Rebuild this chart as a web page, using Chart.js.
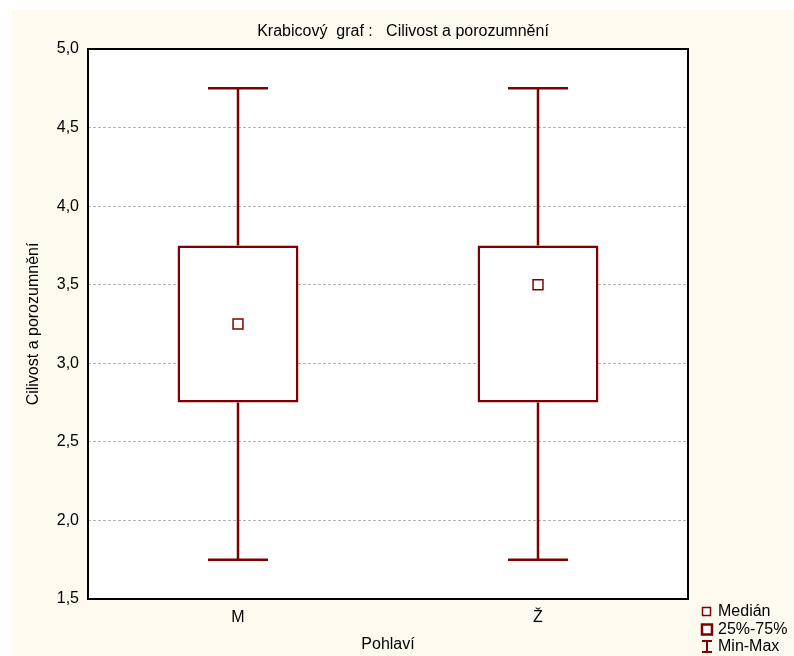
<!DOCTYPE html>
<html>
<head>
<meta charset="utf-8">
<script src="https://cdn.jsdelivr.net/npm/chart.js@4"></script>
<style>
  body { margin: 0; background: #ffffff; }
  #wrap { position: absolute; left: 12px; top: 10px; width: 782px; height: 646px; background: #fffaf0; }
</style>
</head>
<body>
<div id="wrap"><canvas id="box"></canvas></div>
<script>
const categories = ["M", "Ž"];
const minVals = [1.75, 1.75];
const q1Vals = [2.75, 2.75];
const medianVals = [3.25, 3.5];
const q3Vals = [3.75, 3.75];
const maxVals = [4.75, 4.75];

const red = "#800000";
const font = "Arial, 'Liberation Sans', sans-serif";

// white plot area, whiskers, frame, title and legend
const boxExtras = {
    id: "boxExtras",
    beforeDraw(chart) {
        const a = chart.chartArea;
        chart.ctx.save();
        chart.ctx.fillStyle = "#fff";
        chart.ctx.fillRect(a.left, a.top, a.right - a.left, a.bottom - a.top);
        chart.ctx.restore();
    },
    beforeDatasetsDraw(chart) {
        const ctx = chart.ctx;
        const x = chart.scales.x;
        const y = chart.scales.y;
        const step = x.getPixelForTick(1) - x.getPixelForTick(0);
        const cap = step * 0.2 / 2;
        ctx.save();
        ctx.strokeStyle = red;
        ctx.lineWidth = 2.5;
        categories.forEach((c, i) => {
            const cx = x.getPixelForValue(i);
            ctx.beginPath();
            ctx.moveTo(cx, y.getPixelForValue(q3Vals[i]));
            ctx.lineTo(cx, y.getPixelForValue(maxVals[i]));
            ctx.moveTo(cx, y.getPixelForValue(q1Vals[i]));
            ctx.lineTo(cx, y.getPixelForValue(minVals[i]));
            ctx.moveTo(cx - cap, y.getPixelForValue(maxVals[i]));
            ctx.lineTo(cx + cap, y.getPixelForValue(maxVals[i]));
            ctx.moveTo(cx - cap, y.getPixelForValue(minVals[i]));
            ctx.lineTo(cx + cap, y.getPixelForValue(minVals[i]));
            ctx.stroke();
        });
        ctx.restore();
    },
    afterDraw(chart) {
        const ctx = chart.ctx;
        const a = chart.chartArea;
        ctx.save();
        ctx.strokeStyle = "#000";
        ctx.lineWidth = 2;
        ctx.strokeRect(a.left, a.top, a.right - a.left, a.bottom - a.top);

        ctx.fillStyle = "#000";
        ctx.font = "16px " + font;
        ctx.textAlign = "center";
        ctx.textBaseline = "middle";
        ctx.fillText("Krabicový  graf :   Cilivost a porozumnění", chart.width / 2, 22);

        // legend
        ctx.textAlign = "left";
        ctx.font = "16px " + font;
        ctx.fillText("Medián", 706, 602);
        ctx.fillText("25%-75%", 706, 620);
        ctx.fillText("Min-Max", 706, 637);
        ctx.strokeStyle = red;
        ctx.lineWidth = 1.5;
        ctx.fillStyle = "#fff";
        ctx.fillRect(690.5, 597.5, 8, 8);
        ctx.strokeRect(690.5, 597.5, 8, 8);
        ctx.lineWidth = 2.5;
        ctx.fillRect(690, 614.5, 10, 10);
        ctx.strokeRect(690, 614.5, 10, 10);
        ctx.lineWidth = 2;
        ctx.beginPath();
        ctx.moveTo(690, 631); ctx.lineTo(700, 631);
        ctx.moveTo(695, 631); ctx.lineTo(695, 642);
        ctx.moveTo(690, 642); ctx.lineTo(700, 642);
        ctx.stroke();
        ctx.restore();
    }
};

const data = {
    labels: categories,
    datasets: [
        {
            type: "line",
            label: "Medián",
            data: medianVals,
            showLine: false,
            pointStyle: "rect",
            pointRadius: 7,
            pointHoverRadius: 7,
            pointBackgroundColor: "#fff",
            pointBorderColor: red,
            pointBorderWidth: 1.5,
            order: 0,
        },
        {
            type: "bar",
            label: "25%-75%",
            data: categories.map((c, i) => [q1Vals[i], q3Vals[i]]),
            backgroundColor: "#fff",
            borderColor: red,
            borderWidth: 2.5,
            borderSkipped: false,
            barPercentage: 0.403,
            categoryPercentage: 1,
            order: 1,
        },
    ],
};

const config = {
    type: "bar",
    data,
    options: {
        responsive: true,
        maintainAspectRatio: false,
        animation: false,
        layout: { padding: { top: 39, right: 106, left: 0, bottom: 0 } },
        plugins: {
            legend: { display: false },
            tooltip: { enabled: false },
        },
        scales: {
            x: {
                offset: true,
                grid: { display: false, drawTicks: false },
                border: { display: false },
                ticks: { color: "#000", font: { family: font, size: 16 }, padding: 9 },
                title: {
                    display: true,
                    text: "Pohlaví",
                    color: "#000",
                    font: { family: font, size: 16 },
                    padding: { top: 0, bottom: 2 },
                },
                afterFit(scale) { scale.height = 57; },
            },
            y: {
                min: 1.5,
                max: 5,
                grid: {
                    color: "#b4b4b4",
                    lineWidth: 1,
                    drawTicks: false,
                },
                border: { display: false, dash: [3, 2] },
                ticks: {
                    stepSize: 0.5,
                    color: "#000",
                    font: { family: font, size: 16 },
                    padding: 9,
                    callback: (v) => v.toFixed(1).replace(".", ","),
                },
                title: {
                    display: true,
                    text: "Cilivost a porozumnění",
                    color: "#000",
                    font: { family: font, size: 16 },
                    padding: { top: 12, bottom: 0 },
                },
                afterFit(scale) { scale.width = 76; },
            },
        },
    },
    plugins: [boxExtras],
};

const chartBox = document.getElementById("box");
const myChartBox = new Chart(chartBox, config);
</script>
</body>
</html>
